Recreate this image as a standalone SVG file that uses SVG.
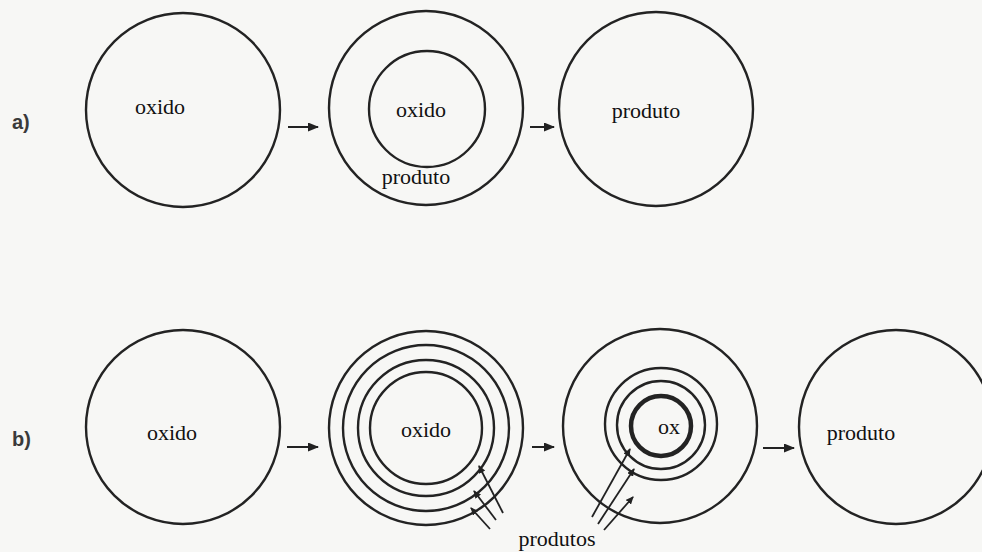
<svg xmlns="http://www.w3.org/2000/svg" width="982" height="552" viewBox="0 0 982 552">
<defs>
<style>
.c{fill:none;stroke:#232323;stroke-width:2.4}
.ck{fill:none;stroke:#232323;stroke-width:4.5}
.t{font-family:"Liberation Serif","Times New Roman",serif;font-size:22px;fill:#111;text-anchor:middle}
.lb{font-family:"Liberation Sans",Arial,sans-serif;font-size:20px;font-weight:bold;fill:#3a3a3a}
.ar{fill:none;stroke:#222;stroke-width:2;marker-end:url(#ah)}
.pr{fill:none;stroke:#222;stroke-width:1.8;marker-end:url(#ps)}
</style>
<marker id="ah" markerUnits="userSpaceOnUse" markerWidth="11" markerHeight="9" refX="10" refY="4.5" orient="auto">
<path d="M0,0 L11,4.5 L0,9 Z" fill="#222"/>
</marker>
<marker id="ps" markerUnits="userSpaceOnUse" markerWidth="8" markerHeight="7" refX="7" refY="3.5" orient="auto">
<path d="M0,0 L8,3.5 L0,7 Z" fill="#222"/>
</marker>
</defs>
<rect width="982" height="552" fill="#f7f7f5"/>

<text class="lb" x="12" y="129">a)</text>
<text class="lb" x="12" y="446">b)</text>

<g id="a1">
<circle class="c" cx="183" cy="110" r="97"/>
<text class="t" x="160" y="114">oxido</text>
</g>
<g id="a2">
<circle class="c" cx="426" cy="108" r="97"/>
<circle class="c" cx="427" cy="109" r="58"/>
<text class="t" x="421" y="117">oxido</text>
<text class="t" x="416" y="184">produto</text>
</g>
<g id="a3">
<circle class="c" cx="656" cy="109" r="97"/>
<text class="t" x="646" y="118">produto</text>
</g>

<g id="b1">
<circle class="c" cx="183" cy="427" r="97"/>
<text class="t" x="172" y="440">oxido</text>
</g>
<g id="b2">
<circle class="c" cx="426" cy="428" r="97"/>
<circle class="c" cx="426" cy="428" r="83"/>
<circle class="c" cx="426" cy="428" r="68"/>
<circle class="c" cx="426" cy="428" r="56"/>
<text class="t" x="426" y="437">oxido</text>
</g>
<g id="b3">
<circle class="c" cx="660" cy="426" r="97"/>
<circle class="c" cx="661" cy="424" r="56"/>
<circle class="c" cx="661" cy="425" r="44"/>
<circle class="ck" cx="661" cy="426" r="30"/>
<text class="t" x="669" y="434">ox</text>
</g>
<g id="b4">
<circle class="c" cx="896" cy="427" r="97"/>
<text class="t" x="861" y="440">produto</text>
</g>

<g id="connectors">
<line class="ar" x1="288" y1="127" x2="318" y2="127"/>
<line class="ar" x1="530" y1="127" x2="554" y2="127"/>
<line class="ar" x1="287" y1="447" x2="318" y2="447"/>
<line class="ar" x1="532" y1="447" x2="554" y2="447"/>
<line class="ar" x1="763" y1="448" x2="794" y2="448"/>

<line class="pr" x1="503" y1="513" x2="479" y2="466"/>
<line class="pr" x1="496" y1="520" x2="474" y2="491"/>
<line class="pr" x1="490" y1="529" x2="471" y2="508"/>

<line class="pr" x1="592" y1="517" x2="630" y2="449"/>
<line class="pr" x1="598" y1="524" x2="634" y2="469"/>
<line class="pr" x1="604" y1="530" x2="633" y2="497"/>
<text class="t" x="557" y="546">produtos</text>
</g>
</svg>
